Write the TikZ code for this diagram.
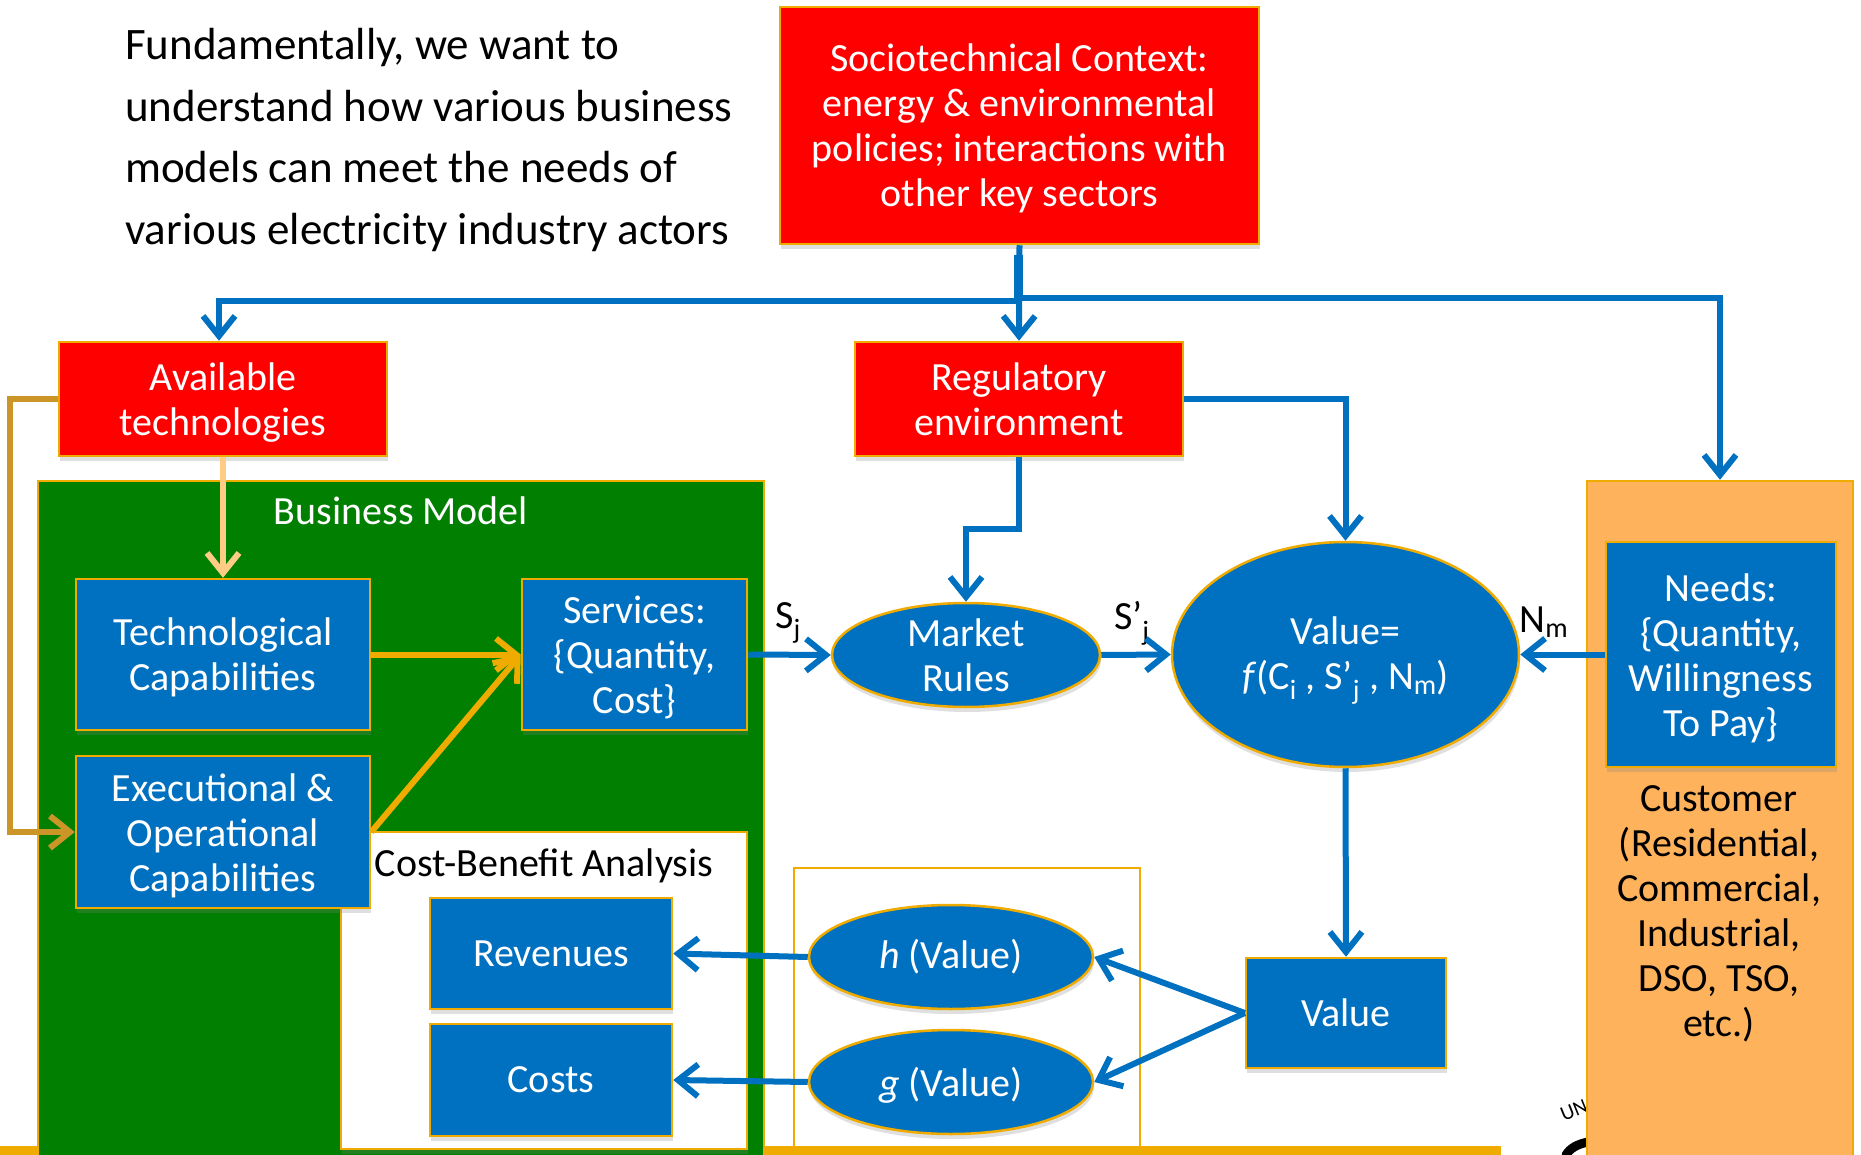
\documentclass[tikz,border=0pt]{standalone}
\usepackage{fontspec}
\setmainfont{Carlito}
\usetikzlibrary{arrows.meta, shadows, shapes.geometric}
\definecolor{hotred}{HTML}{FF0000}
\definecolor{boxblue}{HTML}{0070C0}
\definecolor{bmgreen}{HTML}{007F00}
\definecolor{rimgold}{HTML}{F0AB00}
\definecolor{custpeach}{HTML}{FFB25C}
\definecolor{palepeach}{HTML}{FFCC85}
\definecolor{ochre}{HTML}{CC9528}
\tikzset{
  lbl/.style={font=\fontsize{40}{45}\selectfont, align=center, inner sep=0pt},
  rim/.style={draw=rimgold, line width=2.5pt, drop shadow={shadow xshift=1pt, shadow yshift=-5pt, opacity=0.25}},
  redbox/.style={rectangle, rim, fill=hotred, text=white, lbl},
  bluebox/.style={rectangle, rim, fill=boxblue, text=white, lbl},
  blueoval/.style={ellipse, rim, fill=boxblue, text=white, lbl, inner sep=0pt},
  flow/.style={draw=boxblue, line width=6pt, -{Straight Barb[length=20pt, width=32pt, line width=6pt]}},
  goldflow/.style={flow, draw=rimgold},
}
\begin{document}
\begin{tikzpicture}[x=1pt, y=-1pt]
  \useasboundingbox (0,0) rectangle (1861,1155);
  % bottom bar and the logo behind the customer box
  \fill [rimgold] (0,1146) rectangle (1501,1155);
  \node (uni) at (1574,1110)[rotate=22, font=\fontsize{21}{21}\selectfont]{UN};
  \node (unitail) at (1849,1108)[rotate=-22, font=\fontsize{21}{21}\selectfont]{A};
  \draw [line width=9pt, line cap=round] (1566,1155) .. controls (1570,1148) and (1578,1144) .. (1588,1142);
  % text top left
  \node (intro) at (125,28)[anchor=north west, align=left, inner sep=0pt, font=\fontsize{45}{61.6}\selectfont]{Fundamentally, we want to\\understand how various business\\models can meet the needs of\\various electricity industry actors};
  % top row
  \node (soc) at (1019.5,125.5)[redbox, minimum width=479pt, minimum height=237pt, text height=168pt]{Sociotechnical Context:\\energy \& environmental\\policies; interactions with\\other key sectors};
  \node (avail) at (223,399)[redbox, minimum width=328pt, minimum height=114pt, text height=79pt]{Available\\technologies};
  \node (reg) at (1019,399)[redbox, minimum width=328pt, minimum height=114pt]{Regulatory\\environment};
  % business model
  \node (bm) at (401,820)[rectangle, rim, fill=bmgreen, minimum width=726pt, minimum height=678pt]{};
  \node (bmtitle) at (401,511)[text=white, lbl]{Business Model};
  \node (cba) at (544,990.5)[rectangle, rim, fill=white, minimum width=406pt, minimum height=317pt]{};
  \node (cbatitle) at (544,866)[lbl]{Cost-Benefit Analysis};
  \node (tech) at (223,654.5)[bluebox, minimum width=294pt, minimum height=151pt, text height=79pt]{Technological\\Capabilities};
  \node (exec) at (223,832)[bluebox, minimum width=294pt, minimum height=152pt, text height=125pt]{Executional \&\\Operational\\Capabilities};
  \node (serv) at (634.5,654.5)[bluebox, minimum width=225pt, minimum height=151pt, text height=123pt]{Services:\\\{Quantity,\\Cost\}};
  \node (rev) at (551,953.5)[bluebox, minimum width=242pt, minimum height=111pt]{Revenues};
  \node (cost) at (551,1080)[bluebox, minimum width=242pt, minimum height=112pt]{Costs};
  % customer
  \node (cust) at (1720,820)[rectangle, rim, fill=custpeach, minimum width=266pt, minimum height=678pt]{};
  \node (custtext) at (1719,914)[lbl]{Customer\\(Residential,\\Commercial,\\Industrial,\\DSO, TSO,\\etc.)};
  \node (needs) at (1721,654.5)[bluebox, minimum width=230pt, minimum height=225pt, text height=170pt]{Needs:\\\{Quantity,\\Willingness\\To Pay\}};
  % middle
  \node (mkt) at (966,655)[blueoval, minimum width=268pt, minimum height=104pt]{Market\\Rules};
  \node (valfn) at (1345.5,654.5)[blueoval, minimum width=347pt, minimum height=225pt, text height=85pt]{Value=\\\textit{f}(C\textsubscript{i} , S’\textsubscript{j} , N\textsubscript{m})};
  \draw [rimgold, line width=1.5pt] (794,868) rectangle (1140,1149);
  \node (hval) at (951,957)[blueoval, minimum width=284pt, minimum height=104pt]{\textit{h} (Value)};
  \node (gval) at (951,1082)[blueoval, minimum width=284pt, minimum height=104pt, text height=36pt]{\textit{g} (Value)};
  \node (val) at (1346,1013)[bluebox, minimum width=200pt, minimum height=110pt]{Value};
  % labels of the flows
  \node (sj) at (788,623)[lbl]{S\textsubscript{j}};
  \node (spj) at (1132,623)[lbl]{S’\textsubscript{j}};
  \node (nm) at (1544,622)[lbl]{N\textsubscript{m}};
  % flows from the top box
  \draw [flow] (soc.south) -- (reg.north);
  \draw [flow] (soc.south)++(-3,10) |- ([xshift=-4pt]avail.north |- 0,301) -- ([xshift=-4pt]avail.north);
  \draw [flow] (soc.south)++(0,10) |- (cust.north |- 0,298) -- (cust.north);
  % flows in the middle
  \draw [flow] (reg.east) -| (valfn.north);
  \draw [flow] (reg.south) |- (mkt.north |- 0,529) -- (mkt.north);
  \draw [flow] (serv.east) -- (mkt.west);
  \draw [flow] (mkt.east) -- (valfn.west);
  \draw [flow] (needs.west) -- (valfn.east);
  \draw [flow] (valfn.south) -- (val.north);
  \draw [flow] (val.west) -- (hval.east);
  \draw [flow] (val.west) -- (gval.east);
  \draw [flow] (hval.west) -- (rev.east);
  \draw [flow] (gval.west) -- (cost.east);
  % flows of the business model
  \draw [flow, draw=palepeach] (avail.south) -- (tech.north);
  \draw [flow, draw=ochre] (avail.west) -| (10,832) -- (exec.west);
  \draw [goldflow] (tech.east) -- (serv.west);
  \draw [goldflow] (exec.east) -- (serv.west);
\end{tikzpicture}
\end{document}
